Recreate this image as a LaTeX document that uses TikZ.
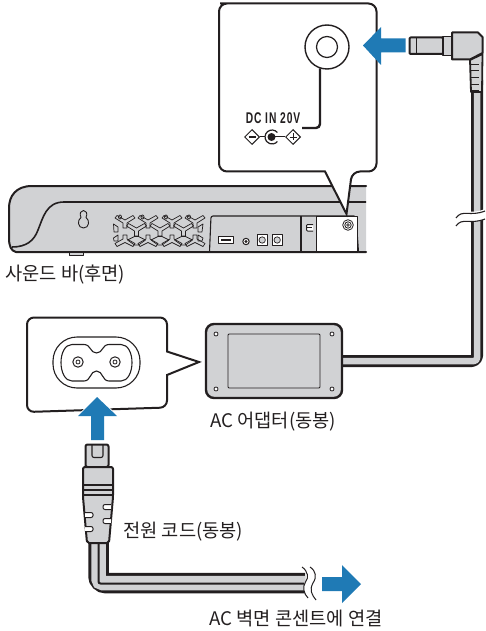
\documentclass[tikz,border=0pt]{standalone}
\usepackage{fontspec}
\usetikzlibrary{shapes.geometric}
\setmainfont{Noto Sans CJK KR}
\newfontfamily\dcfont[FakeStretch=0.66,LetterSpace=6]{Liberation Sans}
\definecolor{bargray}{HTML}{D1D2D4}
\definecolor{flowblue}{HTML}{1F7AB5}
\definecolor{inkline}{HTML}{231F20}
\tikzset{
  px/.style={x=1pt,y=-1pt},
  ink/.style={draw=inkline,line width=1.6pt,line join=round},
  thin ink/.style={draw=inkline,line width=0.9pt,line join=round},
  callout/.style={draw=inkline,line width=2pt,fill=white,line join=miter},
  flow/.style={fill=flowblue,draw=none},
  body/.style={ink,fill=bargray},
  caption/.style={inner sep=0pt,font=\fontsize{18.7}{20}\selectfont,text=inkline},
}
\begin{document}
\begin{tikzpicture}[px]
\useasboundingbox (0,0) rectangle (485,631);
% ---- sound bar
\path[fill=bargray] (366,186) -- (32,186) .. controls (16,186) and (9,196) .. (9,208) -- (9,238) .. controls (9,246) and (11,251) .. (16,252) -- (366,252) -- cycle;
\draw[draw=inkline,line width=2pt,line cap=round] (366,186) -- (32,186) .. controls (16,186) and (9,196) .. (9,208) -- (9,238) .. controls (9,246) and (11,251) .. (16,252) -- (366,252);
\draw[draw=inkline,line width=1.6pt] (366,202) -- (64,202) .. controls (46,202) and (43,218) .. (38,230) .. controls (34,241) and (26,247) .. (12,247);
\draw[body,line width=1pt] (69,252.5) rectangle (83,255.5);
% keyhole
\draw[thin ink,fill=bargray] (81,217.5) .. controls (79,213) and (81,210.5) .. (83.5,210.5) .. controls (86,210.5) and (88,213) .. (86,217.5) .. controls (90,220) and (89.5,228) .. (83.5,228) .. controls (77.5,228) and (77,220) .. (81,217.5) -- cycle;
% grille
\begin{scope}[draw=inkline,line width=.7pt,line join=round,fill=bargray]
\foreach \xx in {125,148,172,195}{
 \draw (\xx-10,218) -- (\xx-8,215.5) -- (\xx,220) -- (\xx+8,215.5) -- (\xx+10,218) -- (\xx+2,223) -- (\xx+2,228) -- (\xx-2,228) -- (\xx-2,223) -- cycle;
 \draw (\xx-10,243.5) -- (\xx-8,246.5) -- (\xx,242.5) -- (\xx+8,246.5) -- (\xx+10,243.5) -- (\xx+2,239) -- (\xx+2,235) -- (\xx-2,235) -- (\xx-2,239) -- cycle;
}
\foreach \xx in {136.5,160,183.5}{
 \draw (\xx-10,226) -- (\xx-8,223.5) -- (\xx,228) -- (\xx+8,223.5) -- (\xx+10,226) -- (\xx+2,231) -- (\xx+2,236) -- (\xx-2,236) -- (\xx-2,231) -- cycle;
 \draw (\xx-9,240) -- (\xx-2,236.5) -- (\xx+2,236.5) -- (\xx+9,240) -- (\xx+2,245) -- (\xx-2,245) -- cycle;
}
\foreach \xx in {120,142.5,166,189}{\draw (\xx,217) ellipse (1.6 and 2);}
\draw (113.5,224) -- (118,227) -- (118,232) -- (114,232) -- cycle;
\draw (113.5,238) -- (118,235) -- (118,241) -- (114,241) -- cycle;
\draw (203,224) -- (198,227) -- (198,232) -- (202,232) -- cycle;
\draw (203,238) -- (198,235) -- (198,241) -- (202,241) -- cycle;
\end{scope}
% panel
\draw[thin ink,rounded corners=2pt,fill=bargray,line width=1.1pt] (209.5,252) -- (211,216) -- (356,216) -- (358.5,252);
\draw[thin ink,fill=white] (316.5,216.5) rectangle (357,251);
\draw[thin ink,line width=1.1pt] (301,216) -- (301,252);
\draw[thin ink,line width=1.1pt] (316.5,216) -- (316.5,252);
\draw[draw=inkline,line width=1.6pt] (210,252) -- (358,252);
\draw[thin ink,fill=white,line width=1pt] (218.5,236.5) rectangle (233,243.5);
\fill[inkline] (220.5,238.5) rectangle (231,241);
\draw[thin ink,fill=white,line width=1pt] (246,241.5) circle (3.2);
\fill[inkline] (246,241.5) circle (1.6);
\draw[thin ink,fill=white,line width=1pt] (257,234.5) rectangle (267.5,245);
\draw[thin ink,fill=bargray,line width=.7pt] (262.2,240) circle (3.2);
\draw[thin ink,fill=white,line width=1pt] (272,234.5) rectangle (282.5,245);
\draw[thin ink,fill=bargray,line width=.7pt] (277.2,240) circle (3.2);
\draw[thin ink,rounded corners=1pt,fill=white,line width=1pt] (313,224.5) -- (306.5,224.5) -- (306.5,231) -- (313,231);
\draw[thin ink,line width=.7pt] (306.5,227.8) -- (312,227.8);
\draw[thin ink,fill=white,line width=.8pt] (348,225) circle (5.3);
\draw[thin ink,fill=white,line width=.8pt] (348,225) circle (3.2);
\draw[thin ink,fill=white,line width=.6pt] (348,225) circle (1.4);
% ---- upper callout
\draw[callout,rounded corners=8pt] (228,3.5) -- (376.5,3.5) -- (376.5,171.5) -- (352,171.5) [sharp corners] -- (346.5,214) -- (325,171.5) [rounded corners=8pt] -- (219,171.5) -- (219,3.5) -- cycle;
\node (jackouter) [circle,draw=inkline,line width=1.4pt,fill=white,minimum size=44pt,inner sep=0pt] at (327,47) {};
\node (jackinner) [circle,draw=inkline,line width=1.2pt,fill=white,minimum size=21pt,inner sep=0pt] at (327,47) {};
\coordinate (leadertop) at (320,68.5);
\coordinate (leaderend) at (302,128);
\draw[draw=inkline,line width=2.4pt,rounded corners=4pt] (leadertop) -- (320,128) -- (leaderend);
\node (dclabel) [inner sep=0pt,text=inkline,font=\dcfont\bfseries\fontsize{15.5}{15.5}\selectfont] at (273,118.5) {DC IN 20V};
% polarity symbol
\node (minusd) [diamond,draw=inkline,line width=1pt,minimum size=15pt,inner sep=0pt,fill=white] at (252,137) {};
\node (plusd) [diamond,draw=inkline,line width=1pt,minimum size=15pt,inner sep=0pt,fill=white] at (293,137) {};
\draw[draw=inkline,line width=1pt] (minusd.east) -- (265,137);
\draw[draw=inkline,line width=1pt] (272,137) -- (plusd.west);
\draw[draw=inkline,line width=1.1pt] (248.5,137) -- (255.5,137);
\draw[draw=inkline,line width=.8pt] (289.5,137) -- (296.5,137) (293,133.5) -- (293,140.5);
\draw[draw=inkline,line width=1.2pt] (277.4,132.5) arc (40:320:7pt);
\fill[inkline] (271.5,137) circle (4);
% blue arrow to the jack
\path[flow] (363,45.5) -- (381,27) -- (381,38.5) -- (405.5,38.5) -- (405.5,52.5) -- (381,52.5) -- (381,65) -- cycle;
% ---- DC cable
\path[draw=inkline,line width=12pt,line join=round,rounded corners=5pt] (477,80) -- (477,361) -- (342,361);
\path[draw=bargray,line width=6.5pt,line join=round,rounded corners=3pt] (477,80) -- (477,361) -- (342,361);
% break
\path[fill=white] (455,214) .. controls (462,206) and (468,216) .. (485,209) -- (485,219) .. controls (468,226) and (462,216) .. (455,224) -- cycle;
\draw[draw=inkline,line width=1.1pt] (456,218) .. controls (462,209) and (470,217) .. (485,211);
\draw[draw=inkline,line width=1.1pt] (456,226) .. controls (462,217) and (470,225) .. (485,219);
% DC plug
\draw[body,line width=2pt,rounded corners=1pt] (409.5,37.5) rectangle (443,54);
\draw[thin ink,line width=1.2pt] (416.5,37.5) -- (416.5,54);
\draw[body] (443,36.5) rectangle (452,55.5);
\draw[body,line width=2pt] (452,32.5) -- (478,32.5) -- (482.5,37) -- (482.5,53) -- (470,59.5) -- (452,59.5) -- cycle;
\draw[body,line width=1.8pt] (470,60) -- (482.5,54) -- (482,92) -- (471,92) -- cycle;
\foreach \yy in {64,70,77,84,90}{\draw[thin ink,line width=.9pt] (471,\yy) -- (479,\yy);}
% ---- adapter
\node (adapter) [draw=inkline,line width=2.4pt,fill=bargray,rounded corners=8pt,minimum width=136pt,minimum height=74pt,inner sep=0pt] at (274,361) {};
\node (adaptpanel) [draw=inkline,line width=.9pt,rounded corners=1pt,minimum width=92pt,minimum height=54pt,inner sep=0pt] at (274,361) {};
\foreach \xx/\yy in {216/334,332/334,216/389,332/389}{\draw[draw=inkline,line width=.8pt,fill=white] (\xx,\yy) circle (2);}
% ---- outlet callout
\draw[callout,rounded corners=7pt] (27,317.5) -- (167,317.5) [sharp corners] -- (167,351.5) -- (199,362) -- (167,375) [rounded corners=7pt] -- (167,407.5) -- (27,412) -- cycle;
\draw[draw=inkline,line width=1.1pt,fill=white,rounded corners=24pt] (53,337) rectangle (140,388);
\draw[draw=inkline,line width=1.1pt] (72,344.5) -- (84,344.5) .. controls (91,344.5) and (90,353) .. (96.5,353) .. controls (103,353) and (102,344.5) .. (109,344.5) -- (121,344.5) .. controls (128,344.5) and (132,353) .. (132,362.5) .. controls (132,372) and (128,381) .. (121,381) -- (109,381) .. controls (102,381) and (103,371) .. (96.5,371) .. controls (90,371) and (91,381) .. (84,381) -- (72,381) .. controls (65,381) and (61,372) .. (61,362.5) .. controls (61,353) and (65,344.5) .. (72,344.5) -- cycle;
\foreach \xx in {78,115}{
 \draw[draw=inkline,line width=1pt] (\xx,362) circle (5.2);
 \draw[draw=inkline,line width=.8pt] (\xx,362) circle (2);
}
% blue arrow up with a white halo
\path[flow,draw=white,line width=1.6pt] (97,397) -- (117,416) -- (104,416) -- (104,440) -- (91,440) -- (91,416) -- (78,416) -- cycle;
\path[flow] (97,397) -- (117,416) -- (104,416) -- (104,440) -- (91,440) -- (91,416) -- (78,416) -- cycle;
% ---- mains cord
\path[draw=inkline,line width=20.5pt,rounded corners=7pt] (98.5,540) -- (98.5,583) -- (305,583);
\path[draw=bargray,line width=14.5pt,rounded corners=4pt] (98.5,540) -- (98.5,583) -- (305,583);
\path[draw=inkline,line width=2pt,rounded corners=2pt] (98.5,540) -- (98.5,583.5) -- (304,583.5);
% break of the mains cord
\path[fill=white] (302,567) .. controls (308,571) and (309,578) .. (305.5,582) .. controls (302,587) and (304,594) .. (308,598) -- (316,600) .. controls (312,595) and (309,590) .. (313,583) .. controls (317,577) and (316,571) .. (310,567) -- cycle;
\draw[draw=inkline,line width=1pt] (302,567) .. controls (308,571) and (309,578) .. (305.5,582) .. controls (302,587) and (304,594) .. (308,598);
\draw[draw=inkline,line width=1pt] (310,567) .. controls (316,571) and (317,577) .. (313,583) .. controls (309,590) and (312,595) .. (316,600);
% blue arrow to the wall
\path[flow] (361,584) -- (342,565) -- (342,577) -- (322,577) -- (322,591) -- (342,591) -- (342,603) -- cycle;
% mains plug
\draw[body,line width=2pt,fill=bargray,rounded corners=2pt] (85.5,444.5) rectangle (108.5,467);
\draw[thin ink,line width=1.1pt,rounded corners=2pt] (92,445) -- (92,457.5) -- (103,457.5) -- (103,445);
\draw[body,line width=2pt,rounded corners=2pt] (83,467) -- (113,467) -- (113,497) -- (109,543) -- (87,543) -- (83,497) -- cycle;
\foreach \yy in {485,490,495}{\draw[thin ink,line width=1.1pt] (83,\yy) -- (113,\yy);}
\foreach \yy in {515,529}{\draw[thin ink,fill=white,line width=1pt,rounded corners=2pt] (85,\yy-2.5) -- (93,\yy-2.5) -- (93,\yy+2.5) -- (85,\yy+2.5);}
\foreach \yy in {507,521}{\draw[thin ink,fill=white,line width=1pt,rounded corners=2pt] (111,\yy-2.5) -- (103,\yy-2.5) -- (103,\yy+2.5) -- (111,\yy+2.5);}
% ---- captions
\node (cap1) [caption,anchor=west] at (5,275) {사운드 바(후면)};
\node (cap2) [caption,anchor=west] at (210,422) {AC 어댑터(동봉)};
\node (cap3) [caption,anchor=west] at (123,532) {전원 코드(동봉)};
\node (cap4) [caption,anchor=west] at (209,618) {AC 벽면 콘센트에 연결};
\end{tikzpicture}
\end{document}
